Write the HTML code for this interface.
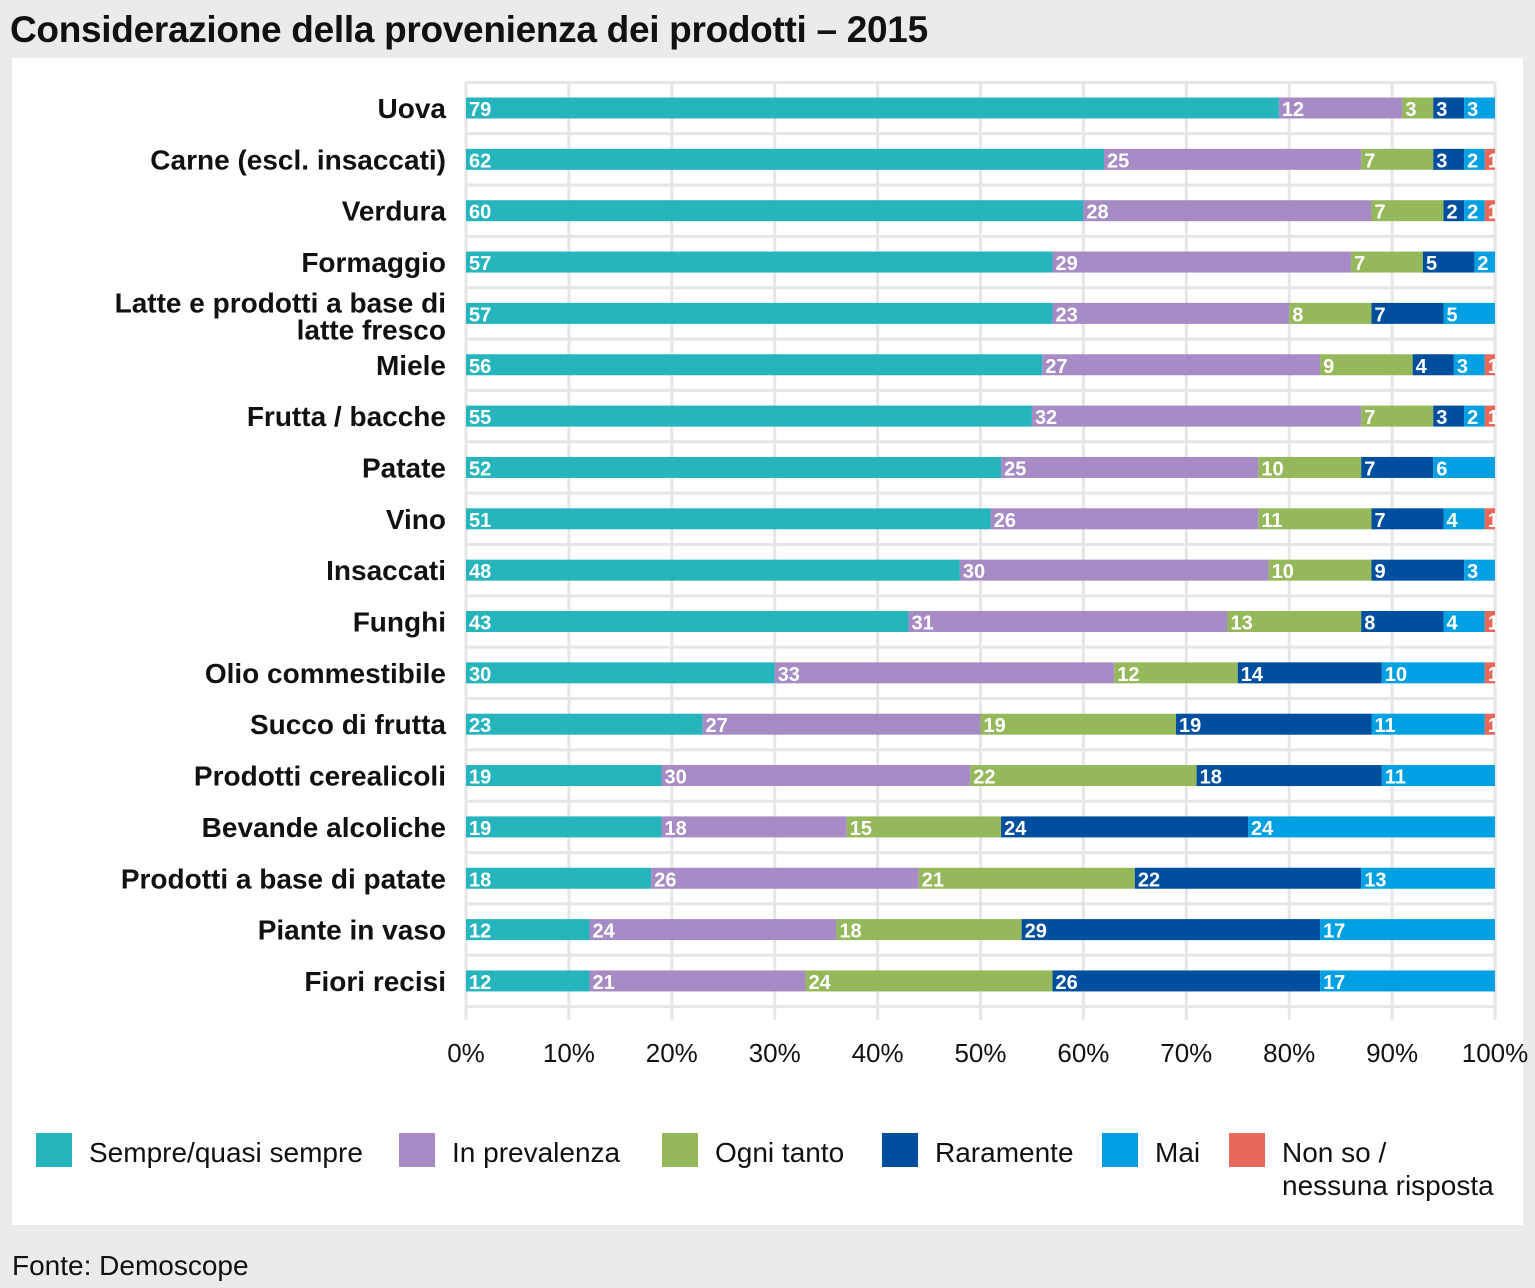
<!DOCTYPE html>
<html><head><meta charset="utf-8"><style>
html,body{margin:0;padding:0;background:#ebebeb;}
body{width:1535px;height:1288px;position:relative;overflow:hidden;font-family:"Liberation Sans",sans-serif;}
#title{position:absolute;left:10px;top:9px;font-size:37px;font-weight:bold;color:#111;letter-spacing:-0.3px;}
#panel{position:absolute;left:12px;top:58px;width:1511px;height:1167px;background:#fff;}
#src{position:absolute;left:12px;top:1250px;font-size:28px;color:#111;}
svg text{font-family:"Liberation Sans",sans-serif;}
</style></head><body>
<div id="title">Considerazione della provenienza dei prodotti – 2015</div>
<div id="panel"></div>
<svg id="chart" width="1535" height="1288" style="position:absolute;left:0;top:0"></svg>
<div id="src">Fonte: Demoscope</div>
<script>
const categories=[["Uova"],["Carne (escl. insaccati)"],["Verdura"],["Formaggio"],["Latte e prodotti a base di","latte fresco"],["Miele"],["Frutta / bacche"],["Patate"],["Vino"],["Insaccati"],["Funghi"],["Olio commestibile"],["Succo di frutta"],["Prodotti cerealicoli"],["Bevande alcoliche"],["Prodotti a base di patate"],["Piante in vaso"],["Fiori recisi"]];
const sempre=[79,62,60,57,57,56,55,52,51,48,43,30,23,19,19,18,12,12];
const prevalenza=[12,25,28,29,23,27,32,25,26,30,31,33,27,30,18,26,24,21];
const ognitanto=[3,7,7,7,8,9,7,10,11,10,13,12,19,22,15,21,18,24];
const raramente=[3,3,2,5,7,4,3,7,7,9,8,14,19,18,24,22,29,26];
const mai=[3,2,2,2,5,3,2,6,4,3,4,10,11,11,24,13,17,17];
const nonso=[0,1,1,0,0,1,1,0,1,0,1,1,1,0,0,0,0,0];
const seriesNames=["Sempre/quasi sempre","In prevalenza","Ogni tanto","Raramente","Mai","Non so /|nessuna risposta"];
const ticks=[0,10,20,30,40,50,60,70,80,90,100];
const colors=["#26b5bd","#a78bc4","#94b85a","#004f9f","#00a0e3","#e8685a"];
const series=[sempre,prevalenza,ognitanto,raramente,mai,nonso];
const svg=document.getElementById('chart');const NS="http://www.w3.org/2000/svg";
const x0=466,x1=1495,yTop=108,step=51.35,bh=21;
const xs=v=>x0+(x1-x0)*v/100;const ys=i=>yTop+i*step;
function mk(t,a,p){const e=document.createElementNS(NS,t);for(const k in a)e.setAttribute(k,a[k]);(p||svg).appendChild(e);return e;}
ticks.forEach(t=>{const g=mk('line',{x1:xs(t),x2:xs(t),y1:82,y2:1020,stroke:'#e6e6e6','stroke-width':3});


const l=mk('text',{x:xs(t),y:1062,'text-anchor':'middle','font-size':26,fill:'#111'});l.textContent=t+'%';

});
for(let i=0;i<=categories.length;i++){const y=ys(i)-step/2;const h=mk('line',{x1:x0,x2:x1,y1:y,y2:y,stroke:'#e6e6e6','stroke-width':3});

}
categories.forEach((c,i)=>{const y=ys(i);
const t=mk('text',{x:446,'text-anchor':'end','font-size':28,'font-weight':'bold',fill:'#111'});


if(c.length==1){t.setAttribute('y',y+10);t.textContent=c[0];}
else{c.forEach((s,k)=>{const ts=mk('tspan',{x:446,y:y-1+k*27},t);ts.textContent=s;});}
let acc=0;
series.forEach((s,j)=>{const v=s[i];if(!v)return;
const r=mk('rect',{x:xs(acc),y:y-bh/2,width:xs(acc+v)-xs(acc),height:bh,fill:colors[j]});


const l=mk('text',{x:xs(acc)+3,y:y+8,'font-size':20,'font-weight':'bold',fill:'#fff'});l.textContent=v;


acc+=v;});});
const lx=[36,399,662,882,1102,1229];
seriesNames.forEach((n,j)=>{const sw=mk('rect',{x:lx[j],y:1133,width:36,height:34,fill:colors[j]});


const t=mk('text',{x:lx[j]+53,y:1162,'font-size':28,fill:'#111'});


n.split('|').forEach((s,k)=>{const ts=mk('tspan',{x:lx[j]+53,y:1162+k*33},t);ts.textContent=s;});});
</script>
</body></html>
